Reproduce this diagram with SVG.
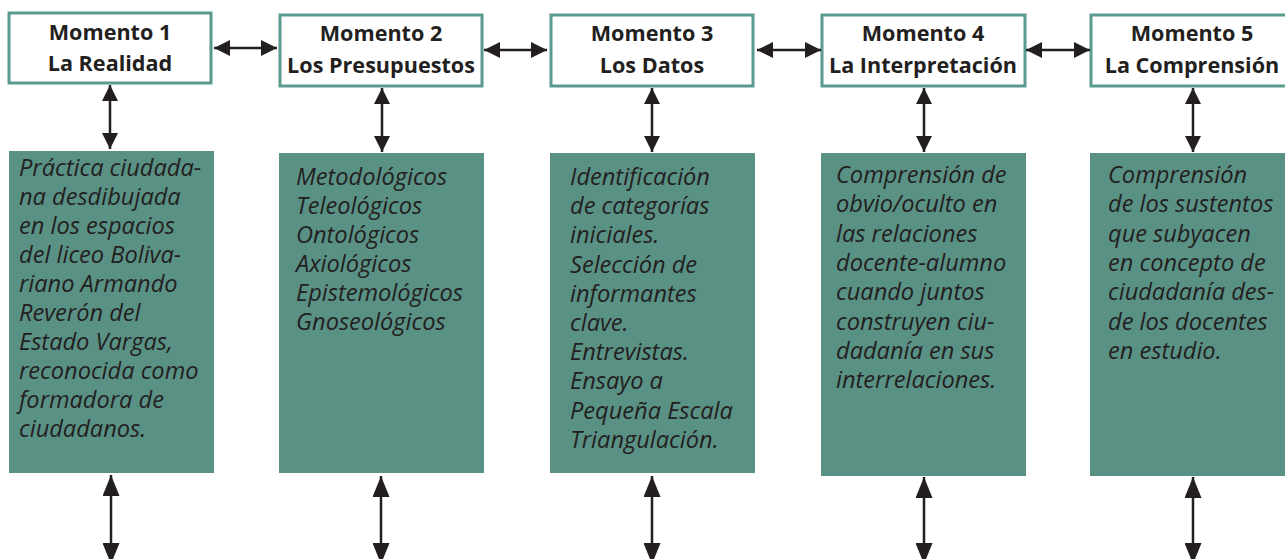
<svg xmlns="http://www.w3.org/2000/svg" width="1285" height="559" viewBox="0 0 1285 559">
<style>
  .hdr { fill: #ffffff; stroke: #5a9a8f; stroke-width: 3; }
  .body { fill: #5a9185; }
  .ht { font-family: "Open Sans", "Liberation Sans", sans-serif; font-weight: bold; font-size: 21.6px; fill: #231f20; text-anchor: middle; }
  .bt { font-family: "Open Sans", "Liberation Sans", sans-serif; font-style: italic; font-size: 23.6px; fill: #231f20; }
  .conn { stroke: #231f20; stroke-width: 2.5; fill: none; }
</style>
<defs>
  <marker id="ah" markerUnits="userSpaceOnUse" markerWidth="16" markerHeight="16" refX="16" refY="8" orient="auto-start-reverse">
    <path d="M0,0 L16,8 L0,16 z" fill="#231f20"/>
  </marker>
  <marker id="ahL" markerUnits="userSpaceOnUse" markerWidth="21" markerHeight="17" refX="21" refY="8.5" orient="auto-start-reverse">
    <path d="M0,0 L21,8.5 L0,17 z" fill="#231f20"/>
  </marker>
</defs>

<g id="node1">
  <rect class="hdr" x="9" y="13" width="202" height="70"/>
  <text class="ht" x="110" y="40">Momento 1</text>
  <text class="ht" x="110" y="71">La Realidad</text>
  <rect class="body" x="9" y="151" width="205" height="322"/>
  <text class="bt" x="19" y="176">
    <tspan x="19" dy="0">Práctica ciudada-</tspan>
    <tspan x="19" dy="29">na desdibujada</tspan>
    <tspan x="19" dy="29">en los espacios</tspan>
    <tspan x="19" dy="29">del liceo Boliva-</tspan>
    <tspan x="19" dy="29">riano Armando</tspan>
    <tspan x="19" dy="29">Reverón del</tspan>
    <tspan x="19" dy="29">Estado Vargas,</tspan>
    <tspan x="19" dy="29">reconocida como</tspan>
    <tspan x="19" dy="29">formadora de</tspan>
    <tspan x="19" dy="29">ciudadanos.</tspan>
  </text>
</g>

<g id="node2">
  <rect class="hdr" x="280" y="15" width="202" height="71"/>
  <text class="ht" x="381" y="41">Momento 2</text>
  <text class="ht" x="381" y="73">Los Presupuestos</text>
  <rect class="body" x="279" y="153" width="205" height="320"/>
  <text class="bt" x="296" y="185">
    <tspan x="296" dy="0">Metodológicos</tspan>
    <tspan x="296" dy="29">Teleológicos</tspan>
    <tspan x="296" dy="29">Ontológicos</tspan>
    <tspan x="296" dy="29">Axiológicos</tspan>
    <tspan x="296" dy="29">Epistemológicos</tspan>
    <tspan x="296" dy="29">Gnoseológicos</tspan>
  </text>
</g>

<g id="node3">
  <rect class="hdr" x="551" y="15" width="202" height="71"/>
  <text class="ht" x="652" y="41">Momento 3</text>
  <text class="ht" x="652" y="73">Los Datos</text>
  <rect class="body" x="550" y="153" width="205" height="320"/>
  <text class="bt" x="570" y="185">
    <tspan x="570" dy="0">Identificación</tspan>
    <tspan x="570" dy="29.2">de categorías</tspan>
    <tspan x="570" dy="29.2">iniciales.</tspan>
    <tspan x="570" dy="29.2">Selección de</tspan>
    <tspan x="570" dy="29.2">informantes</tspan>
    <tspan x="570" dy="29.2">clave.</tspan>
    <tspan x="570" dy="29.2">Entrevistas.</tspan>
    <tspan x="570" dy="29.2">Ensayo a</tspan>
    <tspan x="570" dy="29.2">Pequeña Escala</tspan>
    <tspan x="570" dy="29.2">Triangulación.</tspan>
  </text>
</g>

<g id="node4">
  <rect class="hdr" x="822" y="15" width="203" height="71"/>
  <text class="ht" x="923" y="41">Momento 4</text>
  <text class="ht" x="923" y="73">La Interpretación</text>
  <rect class="body" x="821" y="153" width="205" height="323"/>
  <text class="bt" x="836" y="183">
    <tspan x="836" dy="0">Comprensión de</tspan>
    <tspan x="836" dy="29.3">obvio/oculto en</tspan>
    <tspan x="836" dy="29.3">las relaciones</tspan>
    <tspan x="836" dy="29.3">docente-alumno</tspan>
    <tspan x="836" dy="29.3">cuando juntos</tspan>
    <tspan x="836" dy="29.3">construyen ciu-</tspan>
    <tspan x="836" dy="29.3">dadanía en sus</tspan>
    <tspan x="836" dy="29.3">interrelaciones.</tspan>
  </text>
</g>

<g id="node5">
  <rect class="hdr" x="1091" y="15" width="202" height="71"/>
  <text class="ht" x="1192" y="41">Momento 5</text>
  <text class="ht" x="1192" y="73">La Comprensión</text>
  <rect class="body" x="1090" y="153" width="205" height="323"/>
  <text class="bt" x="1108" y="183">
    <tspan x="1108" dy="0">Comprensión</tspan>
    <tspan x="1108" dy="29.3">de los sustentos</tspan>
    <tspan x="1108" dy="29.3">que subyacen</tspan>
    <tspan x="1108" dy="29.3">en concepto de</tspan>
    <tspan x="1108" dy="29.3">ciudadanía des-</tspan>
    <tspan x="1108" dy="29.3">de los docentes</tspan>
    <tspan x="1108" dy="29.3">en estudio.</tspan>
  </text>
</g>

<g id="connectors" class="conn">
  <line class="conn" x1="214" y1="48" x2="277" y2="48" marker-start="url(#ah)" marker-end="url(#ah)"/>
  <line class="conn" x1="484" y1="50" x2="547" y2="50" marker-start="url(#ah)" marker-end="url(#ah)"/>
  <line class="conn" x1="757" y1="50" x2="821" y2="50" marker-start="url(#ah)" marker-end="url(#ah)"/>
  <line class="conn" x1="1026" y1="50" x2="1090" y2="50" marker-start="url(#ah)" marker-end="url(#ah)"/>

  <line class="conn" x1="110" y1="85" x2="110" y2="149" marker-start="url(#ah)" marker-end="url(#ah)"/>
  <line class="conn" x1="382" y1="88" x2="382" y2="152" marker-start="url(#ah)" marker-end="url(#ah)"/>
  <line class="conn" x1="652" y1="88" x2="652" y2="152" marker-start="url(#ah)" marker-end="url(#ah)"/>
  <line class="conn" x1="924" y1="88" x2="924" y2="152" marker-start="url(#ah)" marker-end="url(#ah)"/>
  <line class="conn" x1="1193" y1="88" x2="1193" y2="152" marker-start="url(#ah)" marker-end="url(#ah)"/>

  <line class="conn" x1="111" y1="475" x2="111" y2="564" marker-start="url(#ahL)" marker-end="url(#ahL)"/>
  <line class="conn" x1="381" y1="476" x2="381" y2="564" marker-start="url(#ahL)" marker-end="url(#ahL)"/>
  <line class="conn" x1="652" y1="476" x2="652" y2="564" marker-start="url(#ahL)" marker-end="url(#ahL)"/>
  <line class="conn" x1="924" y1="477" x2="924" y2="564" marker-start="url(#ahL)" marker-end="url(#ahL)"/>
  <line class="conn" x1="1193" y1="477" x2="1193" y2="564" marker-start="url(#ahL)" marker-end="url(#ahL)"/>
</g>
</svg>
